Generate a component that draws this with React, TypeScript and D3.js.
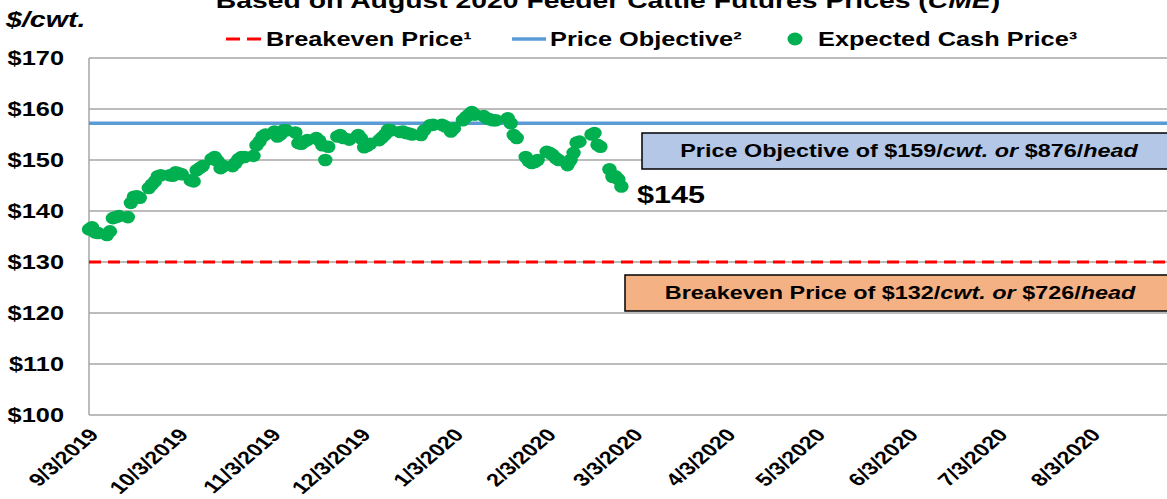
import React, { useEffect, useRef } from 'react';
import * as d3 from 'd3';

const W = 1167, H = 499;
const SX = 1.3; // the original picture is stretched horizontally

const dates = [
  '9/3/2019', '9/4/2019', '9/5/2019', '9/6/2019', '9/9/2019', '9/10/2019', '9/11/2019', '9/12/2019', '9/13/2019',
  '9/16/2019', '9/17/2019', '9/18/2019', '9/19/2019', '9/20/2019', '9/23/2019', '9/24/2019', '9/25/2019', '9/26/2019',
  '9/27/2019', '9/30/2019', '10/1/2019', '10/2/2019', '10/3/2019', '10/4/2019', '10/7/2019', '10/8/2019', '10/9/2019',
  '10/10/2019', '10/11/2019', '10/14/2019', '10/15/2019', '10/16/2019', '10/17/2019', '10/18/2019', '10/21/2019',
  '10/22/2019', '10/23/2019', '10/24/2019', '10/25/2019', '10/28/2019', '10/29/2019', '10/30/2019', '10/31/2019',
  '11/1/2019', '11/4/2019', '11/5/2019', '11/6/2019', '11/7/2019', '11/8/2019', '11/11/2019', '11/12/2019',
  '11/13/2019', '11/14/2019', '11/15/2019', '11/18/2019', '11/19/2019', '11/20/2019', '11/21/2019', '11/22/2019',
  '11/25/2019', '11/26/2019', '11/27/2019', '11/29/2019', '12/2/2019', '12/3/2019', '12/4/2019', '12/5/2019',
  '12/6/2019', '12/9/2019', '12/10/2019', '12/11/2019', '12/12/2019', '12/13/2019', '12/16/2019', '12/17/2019',
  '12/18/2019', '12/19/2019', '12/20/2019', '12/23/2019', '12/24/2019', '12/26/2019', '12/27/2019', '12/30/2019',
  '12/31/2019', '1/2/2020', '1/3/2020', '1/6/2020', '1/7/2020', '1/8/2020', '1/9/2020', '1/10/2020', '1/13/2020',
  '1/14/2020', '1/15/2020', '1/16/2020', '1/17/2020', '1/21/2020', '1/22/2020', '1/23/2020', '1/24/2020',
  '1/27/2020', '1/28/2020', '1/29/2020', '1/30/2020', '1/31/2020', '2/3/2020', '2/4/2020', '2/5/2020', '2/6/2020',
  '2/7/2020', '2/10/2020', '2/11/2020', '2/12/2020', '2/13/2020', '2/14/2020', '2/18/2020', '2/19/2020',
  '2/20/2020', '2/21/2020', '2/24/2020', '2/25/2020', '2/26/2020', '2/27/2020', '2/28/2020'
];

const cashPrice = [
  136.4, 136.8, 135.8, 135.7, 135.3, 136.0, 138.6, 138.8, 139.0,
  138.8, 141.6, 142.8, 142.9, 142.6, 144.5, 145.2, 145.8, 146.8,
  147.0, 147.0, 146.9, 147.6, 147.4, 147.2, 146.0, 145.8, 148.0,
  148.4, 148.8, 150.2, 150.6, 149.8, 148.4, 148.8, 148.8,
  149.4, 150.2, 150.6, 150.6, 150.8, 152.9, 153.6, 154.6,
  155.0, 155.6, 154.6, 155.0, 155.8, 155.8, 155.4, 153.3,
  153.2, 153.6, 153.9, 154.3, 153.8, 152.9, 150.0, 152.6,
  154.6, 154.9, 154.3, 154.0, 154.9, 154.2, 152.5, 152.8,
  153.2, 153.9, 154.4, 155.0, 155.9, 155.8, 155.5, 155.6,
  155.3, 155.2, 155.0, 154.9, 155.8, 156.8, 156.9, 156.9,
  156.6, 155.6, 156.2, 157.8, 158.4, 158.9, 159.4, 158.9, 158.6,
  158.2, 158.0, 157.8, 157.8, 158.2, 157.2, 154.9, 154.3,
  150.6, 149.8, 149.4, 149.6, 150.0, 151.6, 151.4, 151.0, 150.4,
  150.0, 149.0, 150.0, 151.4, 153.4, 153.6, 155.0, 155.3,
  153.0, 152.6, 148.2, 146.7, 146.8, 146.2, 144.8
];

const tickDates = [
  '9/3/2019', '10/3/2019', '11/3/2019', '12/3/2019', '1/3/2020', '2/3/2020',
  '3/3/2020', '4/3/2020', '5/3/2020', '6/3/2020', '7/3/2020', '8/3/2020'
];
const yTicks = [100, 110, 120, 130, 140, 150, 160, 170];

const breakeven = 130;
const objective = 157.2;

const parse = d3.timeParse('%m/%d/%Y');

export default function App() {
  const ref = useRef<SVGSVGElement>(null);

  useEffect(() => {
    const svg = d3.select(ref.current);
    svg.selectAll('*').remove();

    const x = d3.scaleTime()
      .domain([parse('9/3/2019')!, parse('8/3/2020')!])
      .range([89, 1091]);
    const y = d3.scaleLinear().domain([100, 170]).range([415, 58]);
    const xEnd = W;

    // gridlines
    svg.append('g').selectAll('line')
      .data(yTicks)
      .enter().append('line')
      .attr('x1', 89).attr('x2', xEnd)
      .attr('y1', d => y(d)).attr('y2', d => y(d))
      .attr('stroke', '#a6a6a6').attr('stroke-width', 1.5);

    svg.append('line')
      .attr('x1', 89).attr('x2', 89)
      .attr('y1', y(170)).attr('y2', y(100))
      .attr('stroke', '#a6a6a6').attr('stroke-width', 1.5);

    // y labels
    svg.append('g').selectAll('text')
      .data(yTicks)
      .enter().append('text')
      .attr('transform', d => `translate(64,${y(d)}) scale(${SX},1)`)
      .attr('dy', '0.35em')
      .attr('text-anchor', 'end')
      .attr('font-size', 19.5)
      .attr('font-weight', 'bold')
      .text(d => '$' + d);

    // x labels
    svg.append('g').selectAll('text')
      .data(tickDates)
      .enter().append('text')
      .attr('transform', d => `translate(${x(parse(d)!)},428) scale(${SX},1) rotate(-48)`)
      .attr('dy', '0.62em')
      .attr('text-anchor', 'end')
      .attr('font-size', 18)
      .attr('font-weight', 'bold')
      .text(d => d);

    // reference lines
    svg.append('line')
      .attr('x1', 89).attr('x2', xEnd)
      .attr('y1', y(objective)).attr('y2', y(objective))
      .attr('stroke', '#5b9bd5').attr('stroke-width', 3.5);

    svg.append('line')
      .attr('x1', 89).attr('x2', xEnd)
      .attr('y1', y(breakeven)).attr('y2', y(breakeven))
      .attr('stroke', '#ff0000').attr('stroke-width', 3)
      .attr('stroke-dasharray', '12,7');

    // expected cash price dots
    svg.append('g').selectAll('ellipse')
      .data(dates.map((d, i) => ({ date: parse(d)!, v: cashPrice[i] })))
      .enter().append('ellipse')
      .attr('cx', d => x(d.date))
      .attr('cy', d => y(d.v))
      .attr('rx', 7.2).attr('ry', 6.3)
      .attr('fill', '#00b050');

    // last value label
    svg.append('text')
      .attr('transform', `translate(637,203) scale(${SX},1)`)
      .attr('font-size', 23.5)
      .attr('font-weight', 'bold')
      .text('$145');

    // annotation boxes
    const box = (x0: number, y0: number, h: number, fill: string, cx: number, parts: [string, boolean][]) => {
      svg.append('rect')
        .attr('x', x0).attr('y', y0)
        .attr('width', W + 10 - x0).attr('height', h)
        .attr('fill', fill).attr('stroke', '#000').attr('stroke-width', 1.5);
      const t = svg.append('text')
        .attr('transform', `translate(${cx},${y0 + h / 2}) scale(${SX},1)`)
        .attr('dy', '0.36em')
        .attr('text-anchor', 'middle')
        .attr('font-size', 18)
        .attr('font-weight', 'bold');
      parts.forEach(([s, it]) => t.append('tspan').attr('font-style', it ? 'italic' : 'normal').text(s));
    };
    box(642, 133, 36, '#b4c7e7', 909, [['Price Objective of $159/', false], ['cwt. or', true], [' $876/', false], ['head', true]]);
    box(625, 275, 36, '#f4b183', 900, [['Breakeven Price of $132/', false], ['cwt. or', true], [' $726/', false], ['head', true]]);

    // title (cut at the top)
    const title = svg.append('text')
      .attr('transform', `translate(608,8) scale(${SX},1)`)
      .attr('text-anchor', 'middle')
      .attr('font-size', 21.8)
      .attr('font-weight', 'bold');
    title.append('tspan').text('Based on August 2020 Feeder Cattle Futures Prices (');
    title.append('tspan').attr('font-style', 'italic').text('CME');
    title.append('tspan').text(')');

    svg.append('text')
      .attr('transform', `translate(6,27) scale(${SX},1)`)
      .attr('font-size', 22)
      .attr('font-weight', 'bold')
      .attr('font-style', 'italic')
      .text('$/cwt.');

    // legend
    const ly = 46;
    const lg = svg.append('g');
    lg.append('line')
      .attr('x1', 226).attr('x2', 261).attr('y1', ly - 7).attr('y2', ly - 7)
      .attr('stroke', '#ff0000').attr('stroke-width', 3).attr('stroke-dasharray', '14,7');
    lg.append('text')
      .attr('transform', `translate(266,${ly}) scale(${SX},1)`)
      .attr('font-size', 19.5).attr('font-weight', 'bold')
      .text('Breakeven Price¹');
    lg.append('line')
      .attr('x1', 512).attr('x2', 546).attr('y1', ly - 7).attr('y2', ly - 7)
      .attr('stroke', '#5b9bd5').attr('stroke-width', 3.5);
    lg.append('text')
      .attr('transform', `translate(550,${ly}) scale(${SX},1)`)
      .attr('font-size', 19.5).attr('font-weight', 'bold')
      .text('Price Objective²');
    lg.append('ellipse')
      .attr('cx', 795).attr('cy', ly - 7).attr('rx', 7.5).attr('ry', 6.5)
      .attr('fill', '#00b050');
    lg.append('text')
      .attr('transform', `translate(818,${ly}) scale(${SX},1)`)
      .attr('font-size', 19.5).attr('font-weight', 'bold')
      .text('Expected Cash Price³');
  }, []);

  return (
    <svg
      ref={ref}
      width={W}
      height={H}
      style={{ position: 'absolute', left: 0, top: 0, background: '#fff', fontFamily: 'Arial, "Liberation Sans", sans-serif' }}
    />
  );
}
